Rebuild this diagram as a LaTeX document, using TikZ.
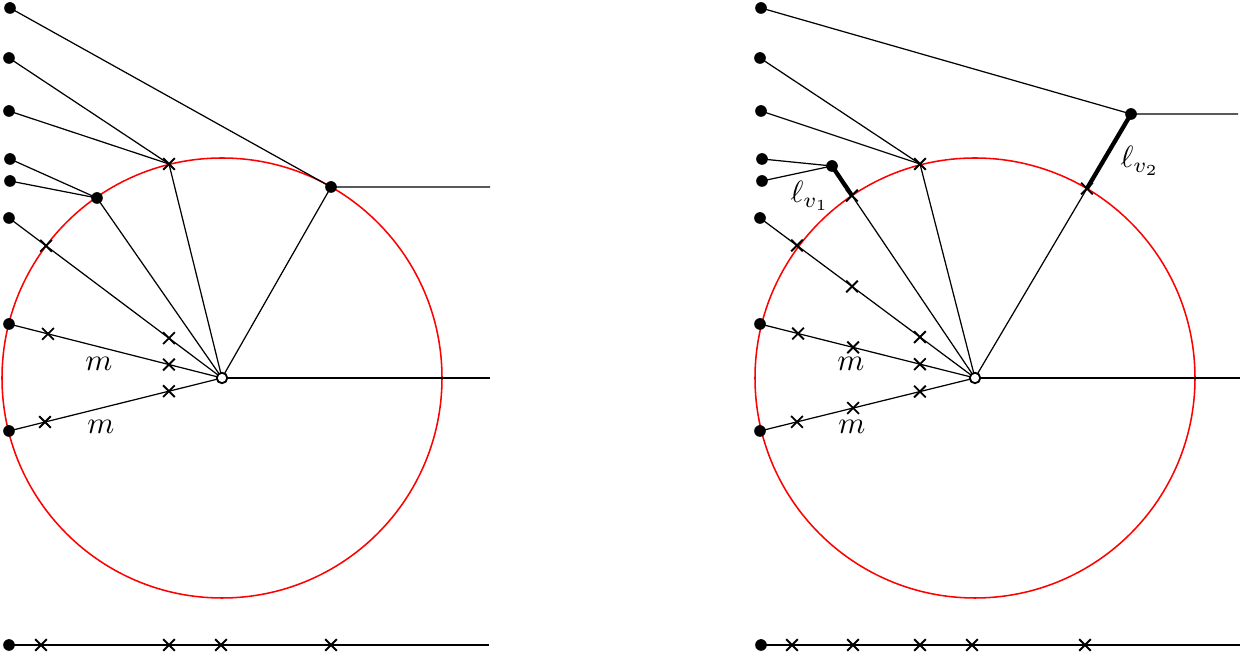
\documentclass[tikz,border=0pt]{standalone}
\usetikzlibrary{shapes.misc,calc}
\begin{document}
\begin{tikzpicture}[x=0.325pt,y=-0.325pt,
  dot/.style={circle,fill,inner sep=0pt,minimum size=3.8pt},
  odot/.style={circle,draw,fill=white,inner sep=0pt,minimum size=3.4pt,line width=0.6pt},
  xmark/.style={draw,cross out,inner sep=0pt,minimum size=3.2pt,line width=0.6pt},
  heavy/.style={line width=1.4pt},
  ring/.style={red,line width=0.5pt}]
\useasboundingbox (0,0) rectangle (1242,654);
% ---------------- left diagram ----------------
\coordinate (L0) at (222,378);
\coordinate (La) at (10,8);
\coordinate (Lb) at (9,58);
\coordinate (Lc) at (9,111);
\coordinate (Ld) at (10,159);
\coordinate (Le) at (10,181);
\coordinate (Lf) at (9,218);
\coordinate (Lg) at (9,324);
\coordinate (Lh) at (9,431);
\coordinate (LA) at (331,187);
\coordinate (LX) at (169,164);
\coordinate (LB) at (97,198);
\coordinate (LAe) at (490,187);
\coordinate (LOe) at (490,378);
\coordinate (Lq) at (9,645);
\coordinate (Lqe) at (489,645);
\draw[ring] (L0) circle[radius=71.5pt];
\draw (La) -- (LA) -- (LAe);
\draw (LA) -- (L0);
\draw (Lb) -- (LX) -- (L0);
\draw (Lc) -- (LX);
\draw (Ld) -- (LB) -- (L0);
\draw (Le) -- (LB);
\draw (Lf) -- (L0);
\draw (Lg) -- (L0);
\draw (Lh) -- (L0);
\draw (L0) -- (LOe);
\draw (Lq) -- (Lqe);
\foreach \n in {La,Lb,Lc,Ld,Le,Lf,Lg,Lh,LA,LB,Lq} \node[dot] (n\n) at (\n) {};
\node[odot] (nL0) at (L0) {};
\node[xmark] (nLX) at (LX) {};
\node[xmark] (xLf1) at ($(Lf)!0.174!(L0)$) {};
\node[xmark] (xLf2) at ($(Lf)!0.751!(L0)$) {};
\node[xmark] (xLg1) at ($(Lg)!0.183!(L0)$) {};
\node[xmark] (xLg2) at ($(Lg)!0.751!(L0)$) {};
\node[xmark] (xLh1) at ($(Lh)!0.169!(L0)$) {};
\node[xmark] (xLh2) at ($(Lh)!0.751!(L0)$) {};
\node[xmark] (xLq1) at (41,645) {};
\node[xmark] (xLq2) at (169,645) {};
\node[xmark] (xLq3) at (221,645) {};
\node[xmark] (xLq4) at (331,645) {};
\node (mL1) at (99,364) {$m$};
\node (mL2) at (101,427) {$m$};
% ---------------- right diagram ----------------
\coordinate (R0) at (975,378);
\coordinate (Ra) at (761,8);
\coordinate (Rb) at (760,58);
\coordinate (Rc) at (761,111);
\coordinate (Rd) at (762,159);
\coordinate (Re) at (762,181);
\coordinate (Rf) at (760,218);
\coordinate (Rg) at (760,324);
\coordinate (Rh) at (760,431);
\coordinate (RV2) at (1131,114);
\coordinate (RV1) at (832,166);
\coordinate (RX) at (920,164);
\coordinate (RV2e) at (1238,114);
\coordinate (ROe) at (1240,378);
\coordinate (Rq) at (761,645);
\coordinate (Rqe) at (1240,645);
\coordinate (RC2) at ($(RV2)!0.2825!(R0)$);
\coordinate (RC1) at ($(RV1)!0.1396!(R0)$);
\draw[ring] (R0) circle[radius=71.5pt];
\draw (Ra) -- (RV2) -- (RV2e);
\draw[heavy] (RV2) -- (RC2);
\draw (RC2) -- (R0);
\draw (Rb) -- (RX) -- (R0);
\draw (Rc) -- (RX);
\draw (Rd) -- (RV1);
\draw (Re) -- (RV1);
\draw[heavy] (RV1) -- (RC1);
\draw (RC1) -- (R0);
\draw (Rf) -- (R0);
\draw (Rg) -- (R0);
\draw (Rh) -- (R0);
\draw (R0) -- (ROe);
\draw (Rq) -- (Rqe);
\foreach \n in {Ra,Rb,Rc,Rd,Re,Rf,Rg,Rh,RV1,RV2,Rq} \node[dot] (n\n) at (\n) {};
\node[odot] (nR0) at (R0) {};
\node[xmark] (nRX) at (RX) {};
\node[xmark] (nRC1) at (RC1) {};
\node[xmark] (nRC2) at (RC2) {};
\node[xmark] (xRf1) at ($(Rf)!0.172!(R0)$) {};
\node[xmark] (xRf2) at ($(Rf)!0.428!(R0)$) {};
\node[xmark] (xRf3) at ($(Rf)!0.744!(R0)$) {};
\node[xmark] (xRg1) at ($(Rg)!0.177!(R0)$) {};
\node[xmark] (xRg2) at ($(Rg)!0.433!(R0)$) {};
\node[xmark] (xRg3) at ($(Rg)!0.744!(R0)$) {};
\node[xmark] (xRh1) at ($(Rh)!0.172!(R0)$) {};
\node[xmark] (xRh2) at ($(Rh)!0.433!(R0)$) {};
\node[xmark] (xRh3) at ($(Rh)!0.744!(R0)$) {};
\node[xmark] (xRq1) at (792,645) {};
\node[xmark] (xRq2) at (853,645) {};
\node[xmark] (xRq3) at (920,645) {};
\node[xmark] (xRq4) at (972,645) {};
\node[xmark] (xRq5) at (1085,645) {};
\node (mR1) at (851,364) {$m$};
\node (mR2) at (852,427) {$m$};
\node (lv1) at (810,196) {$\ell_{v_1}$};
\node (lv2) at (1140,161) {$\ell_{v_2}$};
\end{tikzpicture}
\end{document}
